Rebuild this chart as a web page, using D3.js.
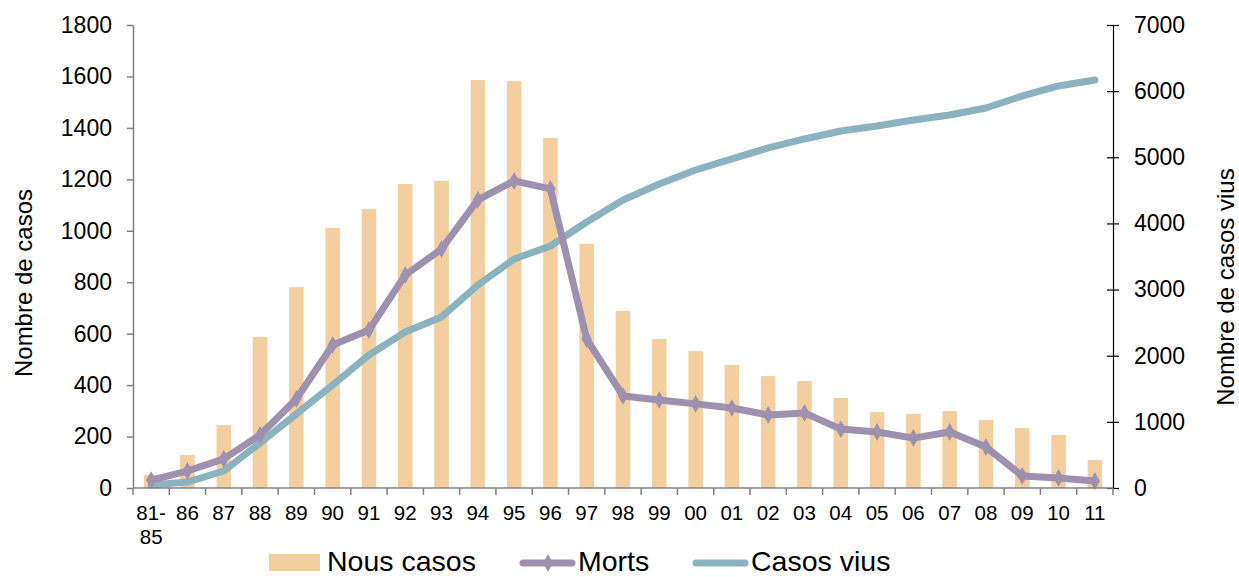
<!DOCTYPE html>
<html lang="ca">
<head>
    <meta charset="UTF-8">
    <title>Nous casos, morts i casos vius</title>
    <script src="https://d3js.org/d3.v7.min.js"></script>
    <style>
        body { margin: 0; background: #fff; font-family: "Liberation Sans", Arial, sans-serif; }
        .axisTitle { font-size: 24px; text-anchor: middle; }
        .legendText { font-size: 28.5px; }
    </style>
</head>
<body>
<div id="canvas"></div>
<script>
    // categories (years)
    var years = ["81-85","86","87","88","89","90","91","92","93","94","95","96","97","98","99",
                 "00","01","02","03","04","05","06","07","08","09","10","11"];
    // Nous casos (left axis)
    var nousCasos = [50,128,245,587,781,1011,1085,1182,1194,1586,1582,1361,949,688,579,
                     533,478,435,416,350,295,288,299,264,233,206,109];
    // Morts (left axis)
    var morts = [31,66,113,206,346,556,614,828,929,1120,1194,1163,579,358,342,
                 327,311,284,292,229,218,194,218,159,47,39,27];
    // Casos vius (right axis)
    var casosVius = [45,90,257,680,1119,1557,2010,2359,2586,3069,3462,3659,4022,4354,4596,
                     4808,4975,5141,5277,5398,5474,5564,5640,5745,5927,6078,6168];
    var leftTicks = [0,200,400,600,800,1000,1200,1400,1600,1800];
    var rightTicks = [0,1000,2000,3000,4000,5000,6000,7000];

    var W = 1239, H = 577;
    var margin = {top: 25, right: 126, bottom: 89, left: 133};
    var width = W - margin.left - margin.right,
        height = H - margin.top - margin.bottom;

    var svg = d3.select("#canvas").append("svg")
        .attr("width", W).attr("height", H);
    var g = svg.append("g")
        .attr("transform", "translate(" + margin.left + "," + margin.top + ")");

    var x = d3.scaleBand().domain(years).range([0, width]).paddingInner(0.6).paddingOuter(0.3);
    var xc = function(d) { return x(d) + x.bandwidth() / 2; };
    var yL = d3.scaleLinear().domain([0, 1800]).range([height, 0]);
    var yR = d3.scaleLinear().domain([0, 7000]).range([height, 0]);

    // bars
    g.selectAll("rect.bar").data(years).enter().append("rect")
        .attr("class", "bar")
        .attr("x", function(d) { return x(d); })
        .attr("width", x.bandwidth())
        .attr("y", function(d, i) { return yL(nousCasos[i]); })
        .attr("height", function(d, i) { return height - yL(nousCasos[i]); })
        .attr("fill", "#F3CE9E");

    // casos vius line
    var lineR = d3.line().x(function(d, i) { return xc(years[i]); }).y(function(d) { return yR(d); });
    g.append("path").datum(casosVius)
        .attr("d", lineR).attr("fill", "none")
        .attr("stroke", "#8BB3BF").attr("stroke-width", 7)
        .attr("stroke-linejoin", "round").attr("stroke-linecap", "round");

    // morts line
    var lineL = d3.line().x(function(d, i) { return xc(years[i]); }).y(function(d) { return yL(d); });
    g.append("path").datum(morts)
        .attr("d", lineL).attr("fill", "none")
        .attr("stroke", "#9E91AF").attr("stroke-width", 7)
        .attr("stroke-linejoin", "round").attr("stroke-linecap", "round");
    g.selectAll("path.mark").data(morts).enter().append("path")
        .attr("class", "mark")
        .attr("d", d3.symbol().type(d3.symbolDiamond).size(90))
        .attr("transform", function(d, i) { return "translate(" + xc(years[i]) + "," + yL(d) + ")"; })
        .attr("fill", "#9E91AF");

    // left axis
    var axL = g.append("g").call(d3.axisLeft(yL).tickValues(leftTicks).tickFormat(d3.format("d"))
        .tickSize(6).tickPadding(15).tickSizeOuter(0));
    axL.select(".domain").attr("stroke", "#808080").attr("stroke-width", 1.5);
    axL.selectAll(".tick line").attr("stroke", "#808080").attr("stroke-width", 1.5);

    // right axis
    var axR = g.append("g").attr("transform", "translate(" + width + ",0)")
        .call(d3.axisRight(yR).tickValues(rightTicks).tickFormat(d3.format("d"))
        .tickSize(6).tickPadding(15).tickSizeOuter(0));
    axR.select(".domain").attr("stroke", "#000").attr("stroke-width", 1.2);
    axR.selectAll(".tick line").attr("x1", -6).attr("stroke", "#000").attr("stroke-width", 1.2);

    [axL, axR].forEach(function(a) {
        a.attr("font-family", "Liberation Sans, Arial, sans-serif").attr("font-size", 23);
        a.selectAll(".tick text").attr("fill", "#000");
    });

    // bottom axis: line + ticks at band boundaries
    var axB = g.append("g").attr("transform", "translate(0," + height + ")");
    axB.append("line").attr("x1", 0).attr("x2", width).attr("stroke", "#808080").attr("stroke-width", 1.5);
    var step = x.step();
    axB.selectAll("line.bt").data(years.concat(["end"])).enter().append("line")
        .attr("class", "bt")
        .attr("x1", function(d, i) { return i * step; })
        .attr("x2", function(d, i) { return i * step; })
        .attr("y1", 0).attr("y2", 7)
        .attr("stroke", "#808080").attr("stroke-width", 1.5);
    axB.selectAll("text").data(years).enter().append("text")
        .attr("x", function(d) { return xc(d); })
        .attr("y", 32)
        .attr("text-anchor", "middle")
        .style("font-size", "20.5px")
        .each(function(d) {
            var t = d3.select(this);
            if (d.indexOf("-") > 0) {
                var parts = d.split("-");
                t.append("tspan").attr("x", xc(d)).text(parts[0] + "-");
                t.append("tspan").attr("x", xc(d)).attr("dy", 24).text(parts[1]);
            } else {
                t.text(d);
            }
        });

    // axis titles
    svg.append("text").attr("class", "axisTitle")
        .attr("transform", "translate(32,283) rotate(-90)")
        .text("Nombre de casos");
    svg.append("text").attr("class", "axisTitle")
        .attr("transform", "translate(1234,287) rotate(-90)")
        .text("Nombre de casos vius");

    // legend
    var lg = svg.append("g").attr("transform", "translate(0,563)");
    lg.append("rect").attr("x", 269).attr("y", -9).attr("width", 51).attr("height", 17).attr("fill", "#F3CE9E");
    lg.append("text").attr("class", "legendText").attr("x", 327).attr("y", 7.5).text("Nous casos");
    lg.append("line").attr("x1", 523).attr("x2", 572).attr("y1", 0).attr("y2", 0)
        .attr("stroke", "#9E91AF").attr("stroke-width", 7).attr("stroke-linecap", "round");
    lg.append("path").attr("d", d3.symbol().type(d3.symbolDiamond).size(90))
        .attr("transform", "translate(548,0)").attr("fill", "#9E91AF");
    lg.append("text").attr("class", "legendText").attr("x", 578).attr("y", 7.5).text("Morts");
    lg.append("line").attr("x1", 696).attr("x2", 745).attr("y1", 0).attr("y2", 0)
        .attr("stroke", "#8BB3BF").attr("stroke-width", 7).attr("stroke-linecap", "round");
    lg.append("text").attr("class", "legendText").attr("x", 751).attr("y", 7.5).text("Casos vius");
</script>
</body>
</html>
